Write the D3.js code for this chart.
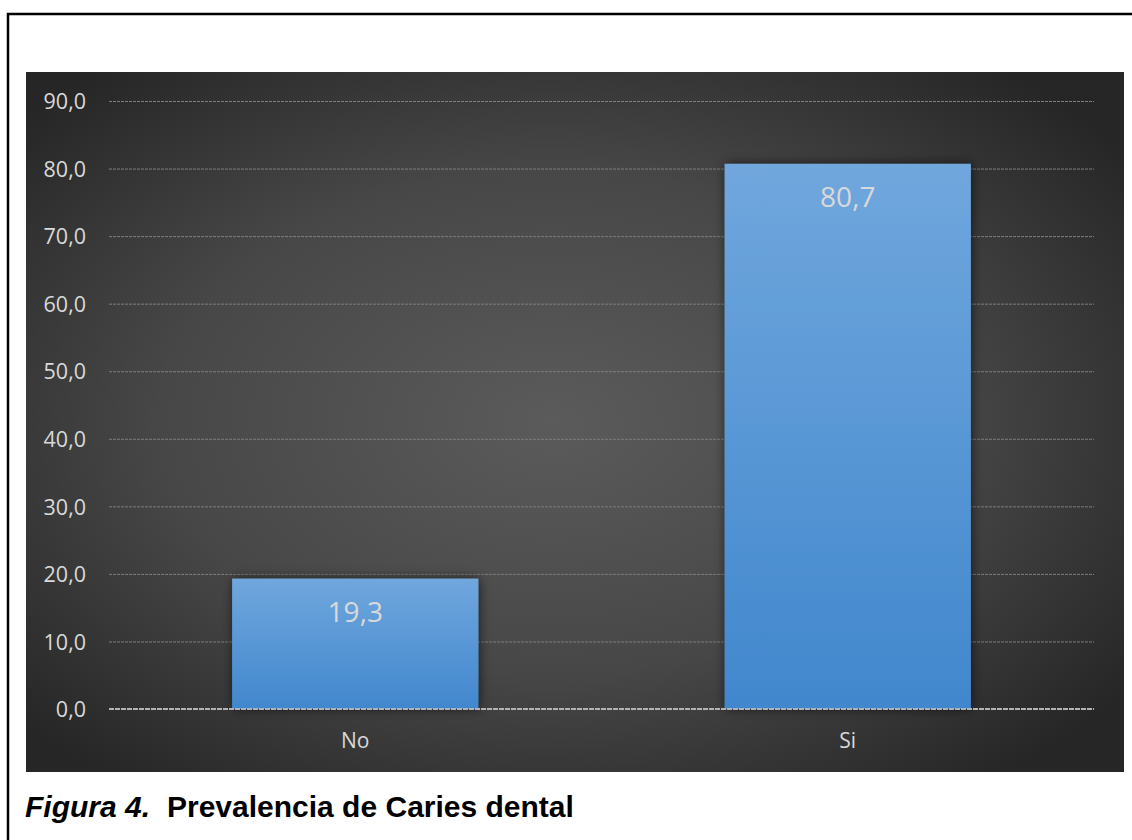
<!DOCTYPE html>
<html>
<head>
<meta charset="utf-8">
<script src="https://cdn.jsdelivr.net/npm/d3@7"></script>
<style>
  html, body { margin: 0; padding: 0; background: #ffffff; }
  svg { display: block; }
</style>
</head>
<body>
<svg id="chart" width="1132" height="840"></svg>
<script>
// Prevalence of dental caries (%)
const categories = ["No", "Si"];
const values = [19.3, 80.7];
const valueLabels = ["19,3", "80,7"];
const yTicks = [0, 10, 20, 30, 40, 50, 60, 70, 80, 90];
const yTickLabels = ["0,0", "10,0", "20,0", "30,0", "40,0", "50,0", "60,0", "70,0", "80,0", "90,0"];
const captionLead = "Figura 4.";
const captionText = "Prevalencia de Caries dental";

const svg = d3.select("#chart");

// frame around the figure
svg.append("rect")
  .attr("x", 8).attr("y", 14)
  .attr("width", 1300).attr("height", 1000)
  .attr("fill", "none").attr("stroke", "#000").attr("stroke-width", 2.5);

const defs = svg.append("defs");

const bg = defs.append("radialGradient").attr("id", "bgGrad")
  .attr("cx", "48%").attr("cy", "50%").attr("r", "65%");
bg.append("stop").attr("offset", "0%").attr("stop-color", "#5b5b5b");
bg.append("stop").attr("offset", "55%").attr("stop-color", "#474747");
bg.append("stop").attr("offset", "100%").attr("stop-color", "#262626");

const barGrad = defs.append("linearGradient").attr("id", "barGrad")
  .attr("x1", 0).attr("y1", 0).attr("x2", 0).attr("y2", 1);
barGrad.append("stop").attr("offset", "0%").attr("stop-color", "#70a7dd");
barGrad.append("stop").attr("offset", "100%").attr("stop-color", "#4187cd");

const shadow = defs.append("filter").attr("id", "barShadow")
  .attr("x", "-20%").attr("y", "-20%").attr("width", "140%").attr("height", "140%");
shadow.append("feDropShadow")
  .attr("dx", 1).attr("dy", 0).attr("stdDeviation", 6)
  .attr("flood-color", "#000").attr("flood-opacity", 0.6);

// chart area
const area = { x: 26, y: 72, w: 1098, h: 700 };
svg.append("rect")
  .attr("x", area.x).attr("y", area.y)
  .attr("width", area.w).attr("height", area.h)
  .attr("fill", "url(#bgGrad)");

const plot = { left: 109, right: 1094, top: 101, bottom: 709 };

const x = d3.scaleBand()
  .domain(categories)
  .range([plot.left, plot.right])
  .paddingInner(0.5).paddingOuter(0.25);

const y = d3.scaleLinear()
  .domain([0, 90])
  .range([plot.bottom, plot.top]);

// gridlines
svg.append("g")
  .selectAll("line")
  .data(yTicks.filter(d => d > 0))
  .join("line")
  .attr("x1", plot.left).attr("x2", plot.right)
  .attr("y1", d => y(d) + 0.5).attr("y2", d => y(d) + 0.5)
  .attr("stroke", "#7e7e7e").attr("stroke-width", 1)
  .attr("stroke-dasharray", "3,1");

// y axis labels
const yAxis = d3.axisLeft(y)
  .tickValues(yTicks)
  .tickFormat((d, i) => yTickLabels[i])
  .tickSize(0).tickPadding(23);
const yg = svg.append("g")
  .attr("transform", `translate(${plot.left},0)`)
  .call(yAxis);
yg.select(".domain").remove();
yg.selectAll("text")
  .attr("fill", "#d9d9d9")
  .attr("font-family", "'Open Sans', sans-serif")
  .attr("font-size", 21.5)
  .attr("dy", "0.36em");

// bars
svg.append("g")
  .selectAll("rect")
  .data(categories)
  .join("rect")
  .attr("x", d => x(d))
  .attr("y", (d, i) => y(values[i]))
  .attr("width", x.bandwidth())
  .attr("height", (d, i) => y(0) - y(values[i]))
  .attr("fill", "url(#barGrad)")
  .attr("filter", "url(#barShadow)");

// zero axis line
svg.append("line")
  .attr("x1", plot.left).attr("x2", plot.right)
  .attr("y1", y(0)).attr("y2", y(0))
  .attr("stroke", "#b3b3b3").attr("stroke-width", 2)
  .attr("stroke-dasharray", "5,1");

// value labels inside bar tops
svg.append("g")
  .selectAll("text")
  .data(categories)
  .join("text")
  .attr("x", d => x(d) + x.bandwidth() / 2)
  .attr("y", (d, i) => y(values[i]) + 33)
  .attr("dy", "0.36em")
  .attr("text-anchor", "middle")
  .attr("fill", "#d9d9d9")
  .attr("font-family", "'Open Sans', sans-serif")
  .attr("font-size", 28)
  .text((d, i) => valueLabels[i]);

// category axis
const xAxis = d3.axisBottom(x).tickSize(0).tickPadding(0);
const xg = svg.append("g")
  .attr("transform", `translate(0,${plot.bottom})`)
  .call(xAxis);
xg.select(".domain").remove();
xg.selectAll("text")
  .attr("y", 31)
  .attr("dy", "0.36em")
  .attr("fill", "#d9d9d9")
  .attr("font-family", "'Open Sans', sans-serif")
  .attr("font-size", 21);

// caption
const cap = svg.append("text")
  .attr("y", 817)
  .attr("font-family", "'Liberation Sans', Arial, sans-serif")
  .attr("font-weight", "bold")
  .attr("font-size", 30)
  .attr("fill", "#000");
cap.append("tspan").attr("x", 25).attr("font-style", "italic").text(captionLead);
cap.append("tspan").attr("x", 167).text(captionText);
</script>
</body>
</html>
